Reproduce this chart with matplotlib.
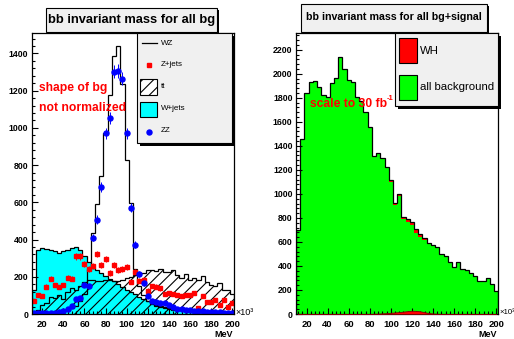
import numpy as np
import matplotlib
matplotlib.use('Agg')
import matplotlib.pyplot as plt
from matplotlib.patches import Rectangle
from matplotlib.lines import Line2D
from matplotlib.ticker import MultipleLocator

plt.rcParams['font.family'] = ['Liberation Sans', 'DejaVu Sans']
plt.rcParams['hatch.linewidth'] = 0.8

W, H = 514, 339

# binning (x10^3 MeV)
edges = np.arange(10, 203, 4)
centers = edges[:-1] + 2

# left panel: shapes of the backgrounds
wz = [4, 5, 6, 7, 8, 10, 12, 15, 22, 30,
      45, 70, 110, 240, 434, 590, 744, 974, 1175, 1387,
      1441, 1234, 830, 597, 240, 150, 100, 70, 55, 45,
      38, 32, 28, 24, 21, 19, 17, 15, 13, 12,
      11, 10, 9, 8, 7, 6, 6, 5]
zjets = [72, 102, 99, 147, 189, 156, 144, 156, 196, 190,
         309, 309, 267, 241, 260, 323, 264, 296, 219, 264,
         237, 244, 255, 172, 228, 178, 183, 126, 151, 147,
         138, 105, 112, 110, 104, 95, 102, 100, 112, 31,
         98, 66, 66, 75, 48, 75, 39, 57]
ttbar = [0, 22, 49, 60, 93, 84, 102, 79, 120, 138,
         130, 151, 174, 183, 183, 178, 180, 183, 185, 180,
         178, 185, 192, 200, 208, 216, 222, 235, 238, 230,
         240, 228, 228, 237, 210, 192, 215, 185, 195, 185,
         205, 174, 156, 150, 165, 130, 130, 110]
wjets = [129, 345, 357, 349, 345, 340, 327, 337, 345, 352,
         359, 345, 310, 280, 245, 235, 220, 205, 190, 175,
         160, 145, 130, 118, 105, 93, 80, 68, 58, 50,
         43, 38, 34, 30, 28, 25, 23, 21, 19, 17,
         15, 14, 12, 11, 10, 9, 8, 7]
zz = [8, 6, 5, 5, 6, 7, 9, 15, 25, 45,
      80, 85, 155, 150, 410, 507, 681, 970, 1055, 1303,
      1306, 1265, 970, 570, 372, 216, 165, 97, 72, 66,
      57, 57, 48, 40, 25, 25, 22, 20, 18, 16,
      14, 12, 11, 10, 9, 8, 7, 6]

# right panel: scaled to 30 fb-1
all_bg = [700, 1456, 1844, 1936, 1944, 1894, 1825, 1806, 1922, 1965,
          2136, 2039, 1950, 1936, 1811, 1770, 1678, 1556, 1311, 1339,
          1297, 1214, 1103, 908, 983, 789, 764, 742, 678, 644,
          617, 583, 569, 556, 500, 483, 433, 394, 436, 372,
          367, 344, 317, 278, 278, 297, 252, 194]
wh = [0, 0, 0, 0, 0, 0, 0, 0, 0, 0,
      0, 0, 0, 0, 0, 0, 0, 0, 2, 3,
      5, 7, 10, 13, 16, 20, 24, 27, 26, 22,
      15, 8, 4, 2, 0, 0, 0, 0, 0, 0,
      0, 0, 0, 0, 0, 0, 0, 0]

xticks = list(range(20, 201, 20))


def fbox(x0, y0, x1, y1):
    # pixel box (top-left origin) -> figure fraction rect
    return [x0 / W, 1 - y1 / H, (x1 - x0) / W, (y1 - y0) / H]


def fx(px):
    return px / W


def fy(py):
    return 1 - py / H


def rect(x0, y0, x1, y1, **kw):
    r = Rectangle((fx(x0), fy(y1)), (x1 - x0) / W, (y1 - y0) / H,
                  transform=fig.transFigure, **kw)
    fig.add_artist(r)


def style_axes(ax, ymax, yticks):
    ax.set_xlim(10, 202)
    ax.set_ylim(0, ymax)
    ax.set_xticks(xticks)
    ax.set_xticklabels([str(v) for v in xticks], fontsize=6.8, fontweight='bold')
    ax.set_yticks(yticks)
    ax.set_yticklabels([str(v) for v in yticks], fontsize=6.3, fontweight='bold')
    ax.xaxis.set_minor_locator(MultipleLocator(4))
    ax.yaxis.set_minor_locator(MultipleLocator(40))
    ax.tick_params(axis='x', which='major', direction='in', length=4.5, width=0.8, pad=4.2)
    ax.tick_params(axis='x', which='minor', direction='in', length=2.2, width=0.8)
    ax.tick_params(axis='y', which='major', direction='in', length=4.2, width=0.8, pad=2.5)
    ax.tick_params(axis='y', which='minor', direction='in', length=2.2, width=0.8)
    for s in ax.spines.values():
        s.set_linewidth(0.9)


fig = plt.figure(figsize=(W / 100, H / 100), dpi=100)

# ---- left: shapes ----
ax1 = fig.add_axes(fbox(31.7, 33, 234.3, 314))
ax1.stairs(wjets, edges, fill=True, facecolor='cyan', edgecolor='black', lw=0.9)
ax1.stairs(ttbar, edges, fill=True, facecolor='none', edgecolor='black',
           hatch='///', lw=0.9)
ax1.stairs(wz, edges, color='black', lw=0.9)
ax1.errorbar(centers, zjets, yerr=np.sqrt(zjets), fmt='s', ms=2.6,
             mfc='red', mec='red', ecolor='red', elinewidth=0.7, capsize=0)
ax1.errorbar(centers, zz, yerr=np.sqrt(zz), fmt='o', ms=3.6,
             mfc='blue', mec='blue', ecolor='blue', elinewidth=0.7, capsize=0)
style_axes(ax1, 1510, list(range(0, 1401, 200)))

# ---- right: scaled ----
ax2 = fig.add_axes(fbox(296, 33, 498.3, 314))
bg = np.array(all_bg)
sig = np.array(wh)
ax2.stairs(bg, edges, fill=True, color='#00ff00', lw=0)
ax2.stairs(bg + sig, edges, baseline=bg, fill=True, color='red', lw=0)
ax2.stairs(bg + sig, edges, color='black', lw=0.9)
ax2.fill_between(centers, 0, sig, color='red', lw=0.6, edgecolor='#800000', zorder=3)
style_axes(ax2, 2340, list(range(0, 2201, 200)))

# ---- title boxes ----
rect(47.7, 10.3, 219.3, 33.7, facecolor='black', lw=0)
rect(45.7, 8.3, 217.3, 31.7, facecolor='#f0f0f0', edgecolor='black', lw=0.8)
fig.text(fx(131.5), fy(20), 'bb invariant mass for all bg', ha='center', va='center',
         fontsize=9.25, fontweight='bold')
rect(302.7, 6, 489.3, 33.7, facecolor='black', lw=0)
rect(300.7, 4, 487.3, 31.7, facecolor='#f0f0f0', edgecolor='black', lw=0.8)
fig.text(fx(394), fy(17), 'bb invariant mass for all bg+signal', ha='center', va='center',
         fontsize=7.65, fontweight='bold')

# ---- left legend ----
rect(139.7, 36.3, 235.3, 145.7, facecolor='black', lw=0)
rect(136.7, 33.3, 232.3, 142.7, facecolor='#f0f0f0', edgecolor='black', lw=0.8)
fig.add_artist(Line2D([fx(141.7), fx(156.7)], [fy(43.3)] * 2, color='black', lw=0.9,
                      transform=fig.transFigure))
fig.add_artist(Line2D([fx(149.3)], [fy(65)], marker='s', ms=2.6, color='red', lw=0,
                      transform=fig.transFigure))
rect(140, 79.3, 157.3, 95, facecolor='white', edgecolor='black', hatch='///', lw=0.8)
rect(140, 101.7, 157.3, 116.7, facecolor='cyan', edgecolor='black', lw=0.8)
fig.add_artist(Line2D([fx(149)], [fy(131.7)], marker='o', ms=3.6, color='blue', lw=0,
                      transform=fig.transFigure))
for label, yy in [('WZ', 43.3), ('Z+jets', 65), ('tt', 86), ('W+jets', 108.5), ('ZZ', 131)]:
    fig.text(fx(161), fy(yy), label, ha='left', va='center', fontsize=5.8)

# ---- right legend ----
rect(398, 35.7, 500.7, 109, facecolor='black', lw=0)
rect(395, 32.7, 497.7, 106, facecolor='#f0f0f0', edgecolor='black', lw=0.8)
rect(399, 37.7, 416.7, 63.3, facecolor='red', edgecolor='black', lw=0.8)
rect(399, 75, 416.7, 100, facecolor='#00ff00', edgecolor='black', lw=0.8)
fig.text(fx(420), fy(50.7), 'WH', ha='left', va='center', fontsize=8.2)
fig.text(fx(420), fy(87.5), 'all background', ha='left', va='center', fontsize=8.2)

# ---- annotations ----
fig.text(fx(39.3), fy(88.3), 'shape of bg', color='red', fontsize=8.7,
         fontweight='bold', ha='left', va='center')
fig.text(fx(39.3), fy(108.3), 'not normalized', color='red', fontsize=8.7,
         fontweight='bold', ha='left', va='center')
fig.text(fx(310), fy(104), 'scale to 30 fb', color='red', fontsize=8.7,
         fontweight='bold', ha='left', va='center')
fig.text(fx(387.2), fy(98.5), '-1', color='red', fontsize=5.5,
         fontweight='bold', ha='left', va='center')

# axis unit labels; right one squeezed in to stay on the canvas
for xm, xe, fs in [(233, 235, 6.5), (497, 499, 5.6)]:
    fig.text(fx(xm), fy(334.5), 'MeV', ha='right', va='center', fontsize=6.5,
             fontweight='bold')
    fig.text(fx(xe), fy(312.5), '\u00d710\u00b3', ha='left', va='center', fontsize=fs)

fig.savefig('out.png', dpi=100)
